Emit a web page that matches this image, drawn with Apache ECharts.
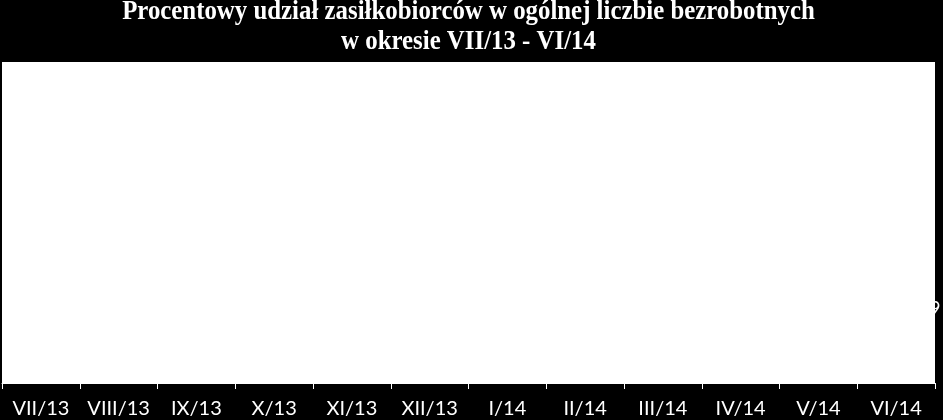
<!DOCTYPE html>
<html><head><meta charset="utf-8">
<script src="https://cdn.jsdelivr.net/npm/echarts@6/dist/echarts.min.js"></script>
<style>html,body{margin:0;padding:0;background:#000;}#c{width:943px;height:420px;}</style>
</head><body><div id="c"></div>
<script>
const titleLines = ['Procentowy udział zasiłkobiorców w ogólnej liczbie bezrobotnych', 'w okresie VII/13 - VI/14'];
const categories = ['VII/13','VIII/13','IX/13','X/13','XI/13','XII/13','I/14','II/14','III/14','IV/14','V/14','VI/14'];
const shareValues = [13.9, 13.5, 13.2, 13.1, 13.4, 14.6, 15.9, 16.2, 15.8, 14.9, 14.2, 13.9];

const titleFont = {fill: '#fff', fontFamily: 'Liberation Serif', fontWeight: 'bold', fontSize: 27, align: 'center', verticalAlign: 'middle'};
const chart = echarts.init(document.getElementById('c'), null, {renderer: 'canvas'});
chart.setOption({
  backgroundColor: '#000',
  animation: false,
  graphic: titleLines.map((t, i) => ({
    type: 'text', x: 468.5, y: 12.5 + i * 29.5, scaleX: 0.92,
    style: Object.assign({text: t, x: 0, y: 0}, titleFont)
  })),
  grid: {left: 2, right: 8, top: 62, bottom: 37, show: true, backgroundColor: '#fff', borderWidth: 0},
  xAxis: {
    type: 'category', data: categories, boundaryGap: true,
    axisLine: {show: true, lineStyle: {color: '#fff', width: 1}},
    axisTick: {show: true, interval: 0, length: 6, lineStyle: {color: '#fff'}},
    axisLabel: {color: '#fff', fontFamily: 'Lato', fontSize: 20, margin: 16, interval: 0, hideOverlap: false}
  },
  yAxis: {type: 'value', min: 0, max: 60, show: false, splitLine: {show: false}},
  series: [{
    type: 'line', data: shareValues,
    lineStyle: {color: '#fff', width: 2},
    itemStyle: {color: '#fff'},
    symbol: 'circle', symbolSize: 4,
    label: {show: true, position: 'right', distance: 5, color: '#fff', fontFamily: 'Lato', fontSize: 19,
      formatter: p => p.value.toFixed(1).replace('.', ',')}
  }]
});
</script></body></html>
